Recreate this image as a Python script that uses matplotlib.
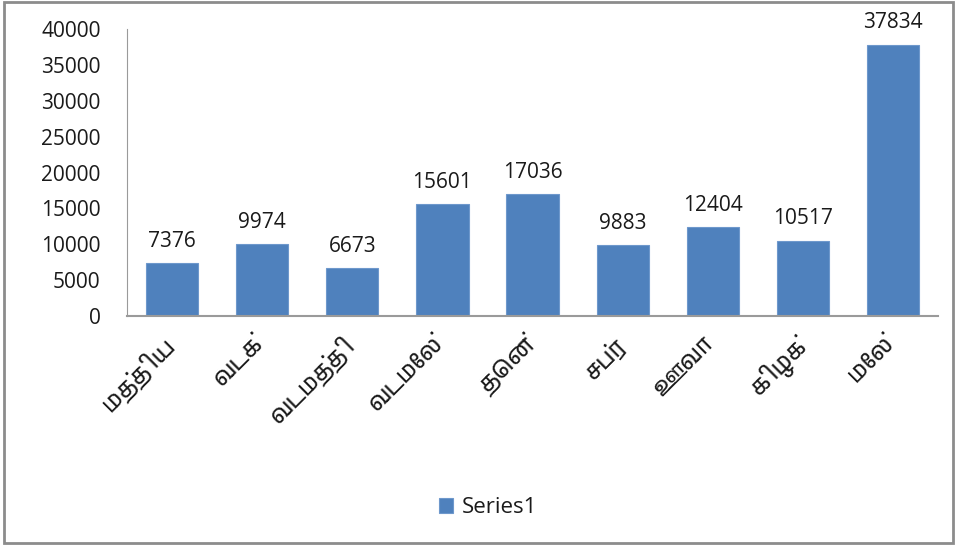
import matplotlib
matplotlib.use("Agg")
import matplotlib.pyplot as plt
import matplotlib.transforms as mtransforms
from matplotlib import font_manager
from matplotlib.patches import Rectangle
import numpy as np

regions = ["மத்திய", "வடக்", "வடமத்தி", "வடமேல்", "தென்", "சப்ர", "ஊவா", "கிழக்", "மேல்"]
values = [7376, 9974, 6673, 15601, 17036, 9883, 12404, 10517, 37834]
series_name = "Series1"

# look for any installed font that has Tamil glyphs
tamil_font = None
for f in font_manager.fontManager.ttflist:
    if "Tamil" in f.name:
        tamil_font = f.name
        break
label_family = [tamil_font, "DejaVu Sans"] if tamil_font else ["DejaVu Sans"]

plt.rcParams["font.family"] = ["Open Sans", "DejaVu Sans"]

fig = plt.figure(figsize=(9.57, 5.46), dpi=100)
ax = fig.add_axes([0.1327, 0.4212, 0.8475, 0.5257])

x = np.arange(len(regions))
ax.bar(x, values, width=0.58, color="#4F81BD", edgecolor="#6E98CC",
       linewidth=0.8, label=series_name)

for xi, v in zip(x, values):
    ax.annotate(str(v), (xi, v), xytext=(0, 8), textcoords="offset points",
                ha="center", va="bottom", fontsize=15, color="#1a1a1a")

ax.set_xlim(-0.5, len(regions) - 0.5)
ax.set_ylim(0, 40000)
ax.set_yticks(range(0, 40001, 5000))
ax.tick_params(axis="y", length=0, labelsize=15, pad=19, labelcolor="#1a1a1a")
ax.tick_params(axis="x", length=0, pad=10)
ax.set_xticks(x)
ax.set_xticklabels(regions, rotation=45, ha="right", rotation_mode="anchor",
                   fontsize=17, family=label_family, color="#1a1a1a")

# nudge the slanted labels a little left, like the original
shift = mtransforms.ScaledTranslation(-0.1, -0.03, fig.dpi_scale_trans)
for lbl in ax.get_xticklabels():
    lbl.set_transform(lbl.get_transform() + shift)

for s in ["top", "right"]:
    ax.spines[s].set_visible(False)
ax.spines["left"].set_color("#9A9A9A")
ax.spines["bottom"].set_color("#9A9A9A")
ax.spines["bottom"].set_linewidth(1.5)

ax.legend(loc="center", bbox_to_anchor=(0.51, 0.07), bbox_transform=fig.transFigure,
          frameon=False, fontsize=16, handlelength=0.6, handleheight=0.6,
          handletextpad=0.4, labelcolor="#1a1a1a")

fig.patches.append(Rectangle((0.004, 0.006), 0.992, 0.99, transform=fig.transFigure,
                             fill=False, edgecolor="#8C8C8C", linewidth=2))

fig.savefig("out.png", dpi=100)
